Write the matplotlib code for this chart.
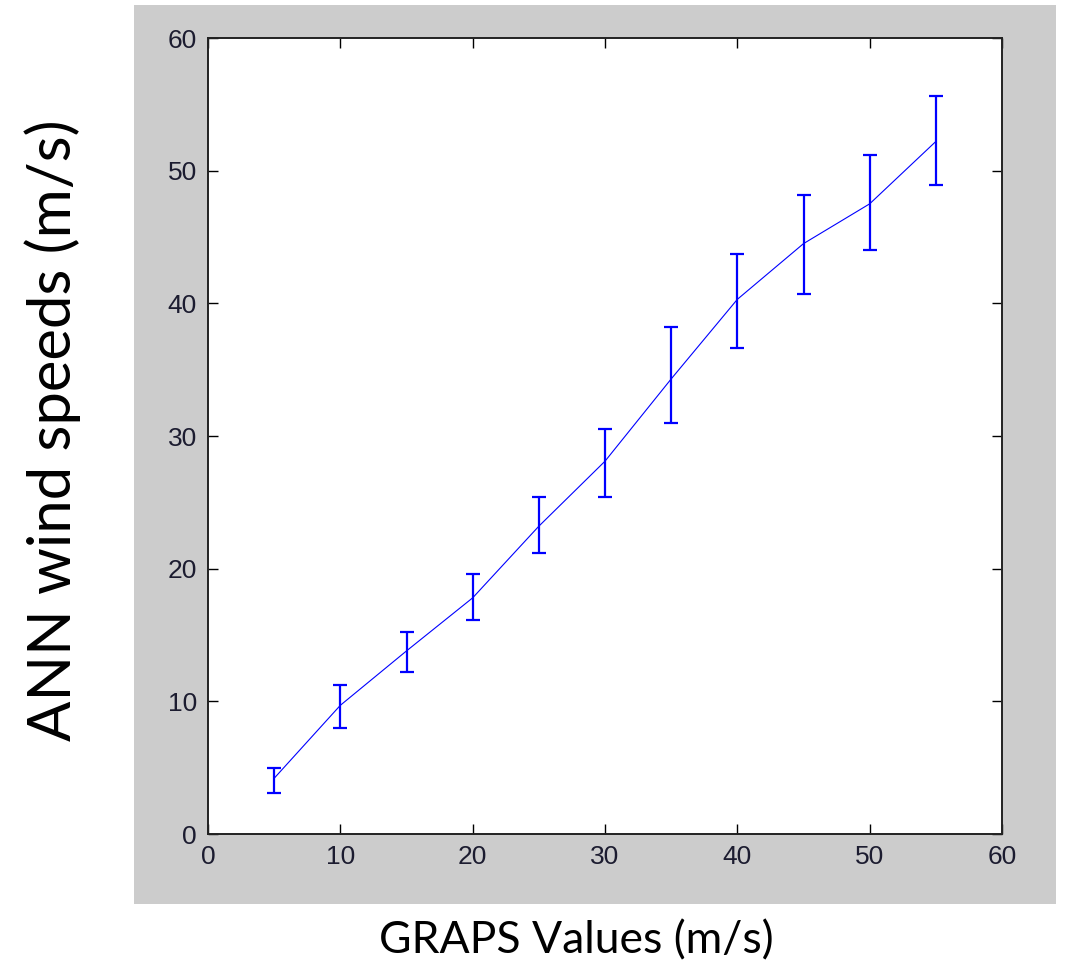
import numpy as np
import matplotlib.pyplot as plt
from matplotlib.patches import Rectangle

# GRAPS values vs ANN wind speeds (m/s)
graps = [5, 10, 15, 20, 25, 30, 35, 40, 45, 50, 55]
ann_mean = [4.2, 9.7, 13.8, 17.8, 23.2, 28.1, 34.3, 40.3, 44.5, 47.5, 52.2]
ann_low = [3.1, 8.0, 12.2, 16.1, 21.2, 25.4, 31.0, 36.6, 40.7, 44.0, 48.9]
ann_high = [5.0, 11.2, 15.2, 19.6, 25.4, 30.5, 38.2, 43.7, 48.2, 51.2, 55.6]

ticks = [0, 10, 20, 30, 40, 50, 60]

mean = np.array(ann_mean)
yerr = [mean - np.array(ann_low), np.array(ann_high) - mean]

fig = plt.figure(figsize=(10.66, 9.68), dpi=100)
fig.patch.set_facecolor("white")

# grey MATLAB-style figure background
fig.patches.append(Rectangle((134 / 1066, 1 - 904 / 968), (1056 - 134) / 1066, (904 - 5) / 968,
                             transform=fig.transFigure, facecolor="#cccccc",
                             edgecolor="none", zorder=-1))

ax = fig.add_axes([208 / 1066, 1 - 834 / 968, (1002 - 208) / 1066, (834 - 38) / 968])
ax.set_zorder(1)
ax.set_facecolor("white")

ax.plot(graps, ann_mean, color="#0000ff", linewidth=0.8)
ax.errorbar(graps, ann_mean, yerr=yerr, fmt="none", ecolor="#0000ff",
            elinewidth=1.6, capsize=5, capthick=1.6)

ax.set_xlim(0, 60)
ax.set_ylim(0, 60)
ax.set_xticks(ticks)
ax.set_yticks(ticks)
ax.tick_params(direction="in", length=7, width=1, top=True, right=True,
               labelsize=19, labelcolor="#1c1c30", pad=8)
for lab in ax.get_xticklabels() + ax.get_yticklabels():
    lab.set_family("Liberation Sans")
for s in ax.spines.values():
    s.set_linewidth(1.4)
    s.set_color("#222222")

fig.text(53 / 1066, 1 - 430 / 968, "ANN wind speeds (m/s)", rotation=90,
         ha="center", va="center", fontsize=43, family="Lato", color="black")
fig.text(576 / 1066, 1 - 953 / 968, "GRAPS Values (m/s)", ha="center",
         va="baseline", fontsize=32, family="Lato", color="black")

plt.savefig("out.png", dpi=100)
plt.close()
